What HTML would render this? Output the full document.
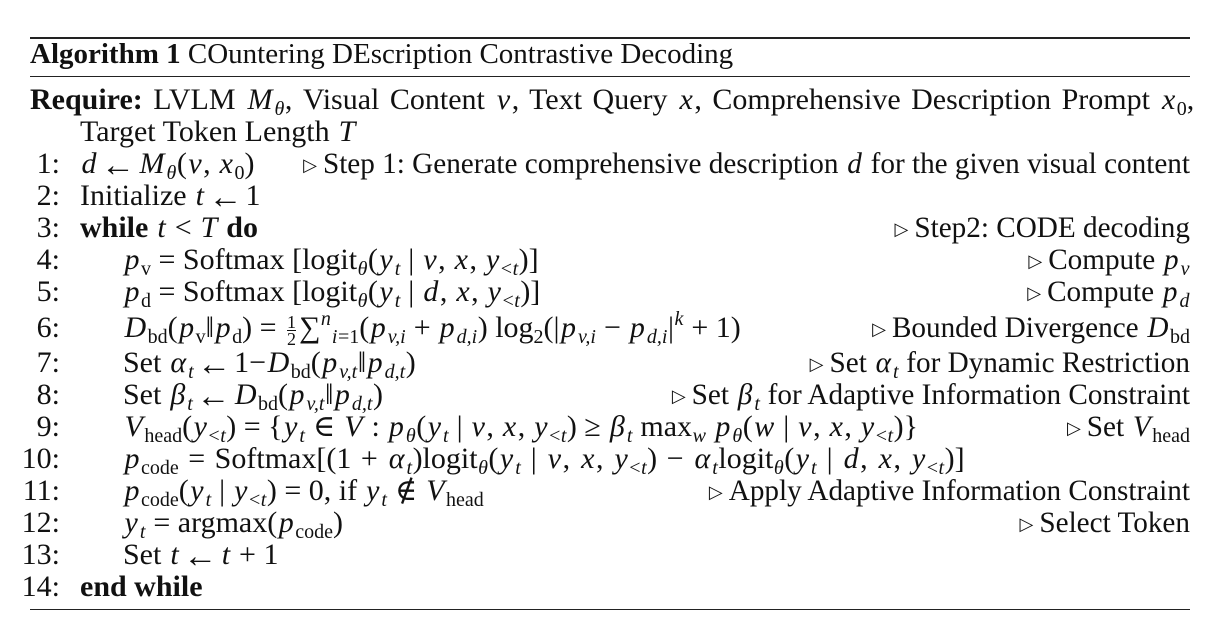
<!DOCTYPE html>
<html><head><meta charset="utf-8">
<style>
html,body{margin:0;padding:0;background:#fff;}
body{width:1216px;height:624px;position:relative;overflow:hidden;font-family:"Liberation Serif","DejaVu Serif",serif;font-size:30px;color:#111;}
.rule{position:absolute;left:30px;width:1160px;background:#222;}
.l{position:absolute;left:0;width:1216px;height:32px;line-height:28px;white-space:nowrap;}
.n{position:absolute;width:60px;text-align:right;}
.c{position:absolute;}
.r{position:absolute;right:26px;font-size:29.2px;}
i{font-style:italic;margin:0 1.5px;}
sub i, sup i{margin:0 0.5px;}
b{font-weight:bold;}
sub{font-size:20px;vertical-align:-6px;line-height:0;}
sup{font-size:20px;vertical-align:12px;line-height:0;}
.tri{font-size:18px;vertical-align:2px;margin-right:6px;}
.ar{font-size:34px;vertical-align:-3px;line-height:0;margin:0 3px;}
.fr{display:inline-block;vertical-align:-8px;text-align:center;font-size:18px;line-height:16px;margin:0 3px;}
.fr span{display:block;}
.fr .t{border-bottom:1px solid #111;}
</style></head><body>
<div class="rule" style="top:37px;height:2px"></div>
<div class="l" style="top:40px;font-size:29px"><span class="c" style="left:30px"><b>Algorithm 1</b> COuntering DEscription Contrastive Decoding</span></div>
<div class="rule" style="top:76px;height:1px"></div>

<div class="l" style="top:86px;word-spacing:3px"><span class="c" style="left:30px"><b>Require:</b> LVLM <i>M</i><sub><i>θ</i></sub>, Visual Content <i>v</i>, Text Query <i>x</i>, Comprehensive Description Prompt <i>x</i><sub>0</sub>,</span></div>
<div class="l" style="top:118px"><span class="c" style="left:80px">Target Token Length <i>T</i></span></div>

<div class="l" style="top:150px"><span class="n" style="left:0">1:</span><span class="c" style="left:80px"><i>d</i><span class="ar">←</span><i>M</i><sub><i>θ</i></sub>(<i>v</i>, <i>x</i><sub>0</sub>)</span><span class="r"><span class="tri">▷</span>Step 1: Generate comprehensive description <i>d</i> for the given visual content</span></div>
<div class="l" style="top:182px"><span class="n">2:</span><span class="c" style="left:80px">Initialize <i>t</i><span class="ar">←</span>1</span></div>
<div class="l" style="top:214px"><span class="n">3:</span><span class="c" style="left:80px"><b>while</b> <i>t</i> &lt; <i>T</i> <b>do</b></span><span class="r"><span class="tri">▷</span>Step2: CODE decoding</span></div>
<div class="l" style="top:246px"><span class="n">4:</span><span class="c" style="left:123px"><i>p</i><sub>v</sub> = Softmax [logit<sub><i>θ</i></sub>(<i>y</i><sub><i>t</i></sub> | <i>v</i>, <i>x</i>, <i>y</i><sub>&lt;<i>t</i></sub>)]</span><span class="r"><span class="tri">▷</span>Compute <i>p</i><sub><i>v</i></sub></span></div>
<div class="l" style="top:278px"><span class="n">5:</span><span class="c" style="left:123px"><i>p</i><sub>d</sub> = Softmax [logit<sub><i>θ</i></sub>(<i>y</i><sub><i>t</i></sub> | <i>d</i>, <i>x</i>, <i>y</i><sub>&lt;<i>t</i></sub>)]</span><span class="r"><span class="tri">▷</span>Compute <i>p</i><sub><i>d</i></sub></span></div>
<div class="l" style="top:314px"><span class="n">6:</span><span class="c" style="left:123px"><i>D</i><sub>bd</sub>(<i>p</i><sub>v</sub>‖<i>p</i><sub>d</sub>) = <span class="fr"><span class="t">1</span><span>2</span></span>∑<sup><i>n</i></sup><sub><i>i</i>=1</sub>(<i>p</i><sub><i>v,i</i></sub> + <i>p</i><sub><i>d,i</i></sub>) log<sub>2</sub>(|<i>p</i><sub><i>v,i</i></sub> − <i>p</i><sub><i>d,i</i></sub>|<sup><i>k</i></sup> + 1)</span><span class="r"><span class="tri">▷</span>Bounded Divergence <i>D</i><sub>bd</sub></span></div>
<div class="l" style="top:349px"><span class="n">7:</span><span class="c" style="left:123px">Set <i>α</i><sub><i>t</i></sub><span class="ar">←</span>1−<i>D</i><sub>bd</sub>(<i>p</i><sub><i>v,t</i></sub>‖<i>p</i><sub><i>d,t</i></sub>)</span><span class="r"><span class="tri">▷</span>Set <i>α</i><sub><i>t</i></sub> for Dynamic Restriction</span></div>
<div class="l" style="top:381px"><span class="n">8:</span><span class="c" style="left:123px">Set <i>β</i><sub><i>t</i></sub><span class="ar">←</span><i>D</i><sub>bd</sub>(<i>p</i><sub><i>v,t</i></sub>‖<i>p</i><sub><i>d,t</i></sub>)</span><span class="r"><span class="tri">▷</span>Set <i>β</i><sub><i>t</i></sub> for Adaptive Information Constraint</span></div>
<div class="l" style="top:413px"><span class="n">9:</span><span class="c" style="left:123px"><i>V</i><sub>head</sub>(<i>y</i><sub>&lt;<i>t</i></sub>) = {<i>y</i><sub><i>t</i></sub> ∈ <i>V</i> : <i>p</i><sub><i>θ</i></sub>(<i>y</i><sub><i>t</i></sub> | <i>v</i>, <i>x</i>, <i>y</i><sub>&lt;<i>t</i></sub>) ≥ <i>β</i><sub><i>t</i></sub> max<sub><i>w</i></sub> <i>p</i><sub><i>θ</i></sub>(<i>w</i> | <i>v</i>, <i>x</i>, <i>y</i><sub>&lt;<i>t</i></sub>)}</span><span class="r"><span class="tri">▷</span>Set <i>V</i><sub>head</sub></span></div>
<div class="l" style="top:445px;word-spacing:2px"><span class="n">10:</span><span class="c" style="left:123px"><i>p</i><sub>code</sub> = Softmax[(1 + <i>α</i><sub><i>t</i></sub>)logit<sub><i>θ</i></sub>(<i>y</i><sub><i>t</i></sub> | <i>v</i>, <i>x</i>, <i>y</i><sub>&lt;<i>t</i></sub>) − <i>α</i><sub><i>t</i></sub>logit<sub><i>θ</i></sub>(<i>y</i><sub><i>t</i></sub> | <i>d</i>, <i>x</i>, <i>y</i><sub>&lt;<i>t</i></sub>)]</span></div>
<div class="l" style="top:477px"><span class="n">11:</span><span class="c" style="left:123px"><i>p</i><sub>code</sub>(<i>y</i><sub><i>t</i></sub> | <i>y</i><sub>&lt;<i>t</i></sub>) = 0, if <i>y</i><sub><i>t</i></sub> ∉ <i>V</i><sub>head</sub></span><span class="r"><span class="tri">▷</span>Apply Adaptive Information Constraint</span></div>
<div class="l" style="top:509px"><span class="n">12:</span><span class="c" style="left:123px"><i>y</i><sub><i>t</i></sub> = argmax(<i>p</i><sub>code</sub>)</span><span class="r"><span class="tri">▷</span>Select Token</span></div>
<div class="l" style="top:541px"><span class="n">13:</span><span class="c" style="left:123px">Set <i>t</i><span class="ar">←</span><i>t</i> + 1</span></div>
<div class="l" style="top:573px"><span class="n">14:</span><span class="c" style="left:80px"><b>end while</b></span></div>
<div class="rule" style="top:609px;height:1px"></div>
</body></html>
